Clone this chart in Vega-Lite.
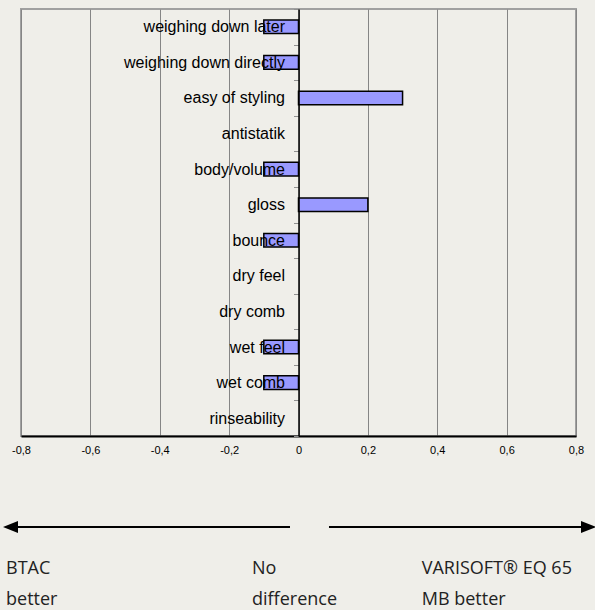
{
  "$schema": "https://vega.github.io/schema/vega-lite/v6.json",
  "background": "#efeee9",
  "padding": {"left": 2, "top": 0, "right": 0, "bottom": 0},
  "spacing": 9,
  "config": {"font": "Liberation Sans"},
  "vconcat": [
    {
      "width": 555,
      "height": 427,
      "view": {"stroke": "#a0a0a0", "strokeWidth": 2},
      "data": {"values": [
        {"attribute": "weighing down later", "value": -0.1},
        {"attribute": "weighing down directly", "value": -0.1},
        {"attribute": "easy of styling", "value": 0.3},
        {"attribute": "antistatik", "value": 0},
        {"attribute": "body/volume", "value": -0.1},
        {"attribute": "gloss", "value": 0.2},
        {"attribute": "bounce", "value": -0.1},
        {"attribute": "dry feel", "value": 0},
        {"attribute": "dry comb", "value": 0},
        {"attribute": "wet feel", "value": -0.1},
        {"attribute": "wet comb", "value": -0.1},
        {"attribute": "rinseability", "value": 0}
      ]},
      "mark": {"type": "bar", "fill": "#9999ff", "stroke": "#000000", "height": {"band": 0.38}},
      "encoding": {
        "strokeWidth": {"condition": {"test": "datum.value == 0", "value": 0}, "value": 1.5},
        "y": {
          "field": "attribute", "type": "nominal", "sort": null,
          "scale": {"paddingInner": 0, "paddingOuter": 0},
          "axis": {
            "title": null, "orient": "left", "offset": -277.5, "zindex": 1,
            "domainColor": "#000000", "domainWidth": 1.5,
            "tickColor": "#909090", "tickSize": 5, "tickWidth": 1, "tickBand": "extent",
            "labelFontSize": 16, "labelFont": "Liberation Sans", "labelColor": "#000000",
            "labelPadding": 9, "labelLimit": 0, "grid": false
          }
        },
        "x": {
          "field": "value", "type": "quantitative",
          "scale": {"domain": [-0.8, 0.8], "nice": false},
          "axis": {
            "title": null,
            "values": [-0.8, -0.6, -0.4, -0.2, 0, 0.2, 0.4, 0.6, 0.8],
            "grid": true, "gridColor": "#858585", "gridWidth": 1,
            "domainColor": "#000000", "domainWidth": 2,
            "ticks": false, "labelPadding": 8,
            "labelFont": "Liberation Sans", "labelFontSize": 11, "labelColor": "#000000",
            "labelFlush": false, "labelOverlap": false,
            "labelExpr": "datum.value == 0 ? '0' : (datum.value < 0 ? '-' : '') + '0,' + round(abs(datum.value) * 10)"
          }
        }
      }
    },
    {
      "width": 555,
      "height": 145,
      "view": {"stroke": null},
      "data": {"values": [
        {"kind": "arrow", "dir": "left", "tip": -0.8519, "from": -0.8346, "to": -0.0245, "y": 62},
        {"kind": "arrow", "dir": "right", "tip": 0.8576, "from": 0.0879, "to": 0.8375, "y": 62},
        {"kind": "text", "label": "BTAC", "x": -0.8432, "y": 109},
        {"kind": "text", "label": "better", "x": -0.8432, "y": 140},
        {"kind": "text", "label": "No", "x": -0.134, "y": 109},
        {"kind": "text", "label": "difference", "x": -0.134, "y": 140},
        {"kind": "text", "label": "VARISOFT® EQ 65", "x": 0.3552, "y": 109},
        {"kind": "text", "label": "MB better", "x": 0.3552, "y": 140}
      ]},
      "layer": [
        {
          "transform": [{"filter": "datum.kind == 'arrow'"}],
          "mark": {"type": "rule", "color": "#000000", "strokeWidth": 2},
          "encoding": {
            "x": {"field": "from", "type": "quantitative", "scale": {"domain": [-0.8, 0.8], "nice": false, "zero": false}, "axis": null},
            "x2": {"field": "to"},
            "y": {"field": "y", "type": "quantitative", "scale": {"domain": [0, 145], "reverse": true, "nice": false}, "axis": null}
          }
        },
        {
          "transform": [{"filter": "datum.dir == 'left'"}],
          "mark": {"type": "point", "shape": "M0,0L2,-0.8L2,0.8Z", "filled": true, "color": "#000000", "size": 225, "opacity": 1, "strokeWidth": 0},
          "encoding": {
            "x": {"field": "tip", "type": "quantitative", "axis": null},
            "y": {"field": "y", "type": "quantitative", "axis": null}
          }
        },
        {
          "transform": [{"filter": "datum.dir == 'right'"}],
          "mark": {"type": "point", "shape": "M0,0L-2,-0.8L-2,0.8Z", "filled": true, "color": "#000000", "size": 225, "opacity": 1, "strokeWidth": 0},
          "encoding": {
            "x": {"field": "tip", "type": "quantitative", "axis": null},
            "y": {"field": "y", "type": "quantitative", "axis": null}
          }
        },
        {
          "transform": [{"filter": "datum.kind == 'text'"}],
          "mark": {"type": "text", "align": "left", "baseline": "alphabetic", "font": "Open Sans", "fontSize": 18, "color": "#222222"},
          "encoding": {
            "x": {"field": "x", "type": "quantitative", "axis": null},
            "y": {"field": "y", "type": "quantitative", "axis": null},
            "text": {"field": "label"}
          }
        }
      ]
    }
  ]
}
